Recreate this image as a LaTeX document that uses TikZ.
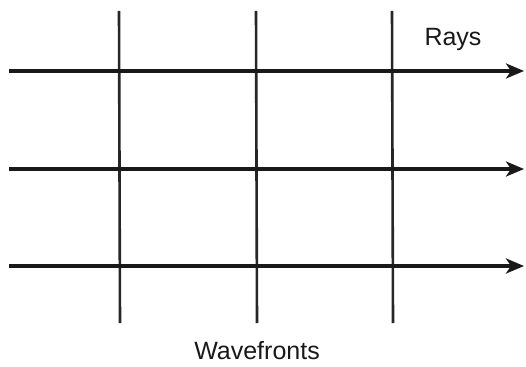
\documentclass[tikz,border=0pt]{standalone}
\usepackage{fontspec}
\setmainfont{Liberation Sans}
\usetikzlibrary{arrows.meta,positioning}
\tikzset{
  rayArrow/.style={-{Stealth[length=18pt, width=15pt, inset=5pt]}, line width=3.2pt, draw=black!90},
  frontLine/.style={draw=black!85, line width=2.6pt},
  labelText/.style={font=\fontsize{25}{29}\selectfont, text=black!90, inner sep=0pt}
}
\begin{document}
\begin{tikzpicture}[x=1pt, y=-1pt]
\useasboundingbox (0,0) rectangle (526,366);
% rays
\coordinate (rayAStart) at (9,71);   \coordinate (rayAEnd) at (524,71);
\coordinate (rayBStart) at (9,169);  \coordinate (rayBEnd) at (524,169);
\coordinate (rayCStart) at (9,266);  \coordinate (rayCEnd) at (524,266);
% wavefronts
\coordinate (frontATop) at (119,11); \coordinate (frontABot) at (120,323);
\coordinate (frontBTop) at (256,11); \coordinate (frontBBot) at (257,323);
\coordinate (frontCTop) at (392,11); \coordinate (frontCBot) at (393,323);

\draw[frontLine] (frontATop) -- (frontABot);
\draw[frontLine] (frontBTop) -- (frontBBot);
\draw[frontLine] (frontCTop) -- (frontCBot);

\draw[rayArrow] (rayAStart) -- (rayAEnd);
\draw[rayArrow] (rayBStart) -- (rayBEnd);
\draw[rayArrow] (rayCStart) -- (rayCEnd);

\node[labelText] (raysLabel) at (453,39) {Rays};
\node[labelText] (frontsLabel) at (257,351) {Wavefronts};
\end{tikzpicture}
\end{document}
